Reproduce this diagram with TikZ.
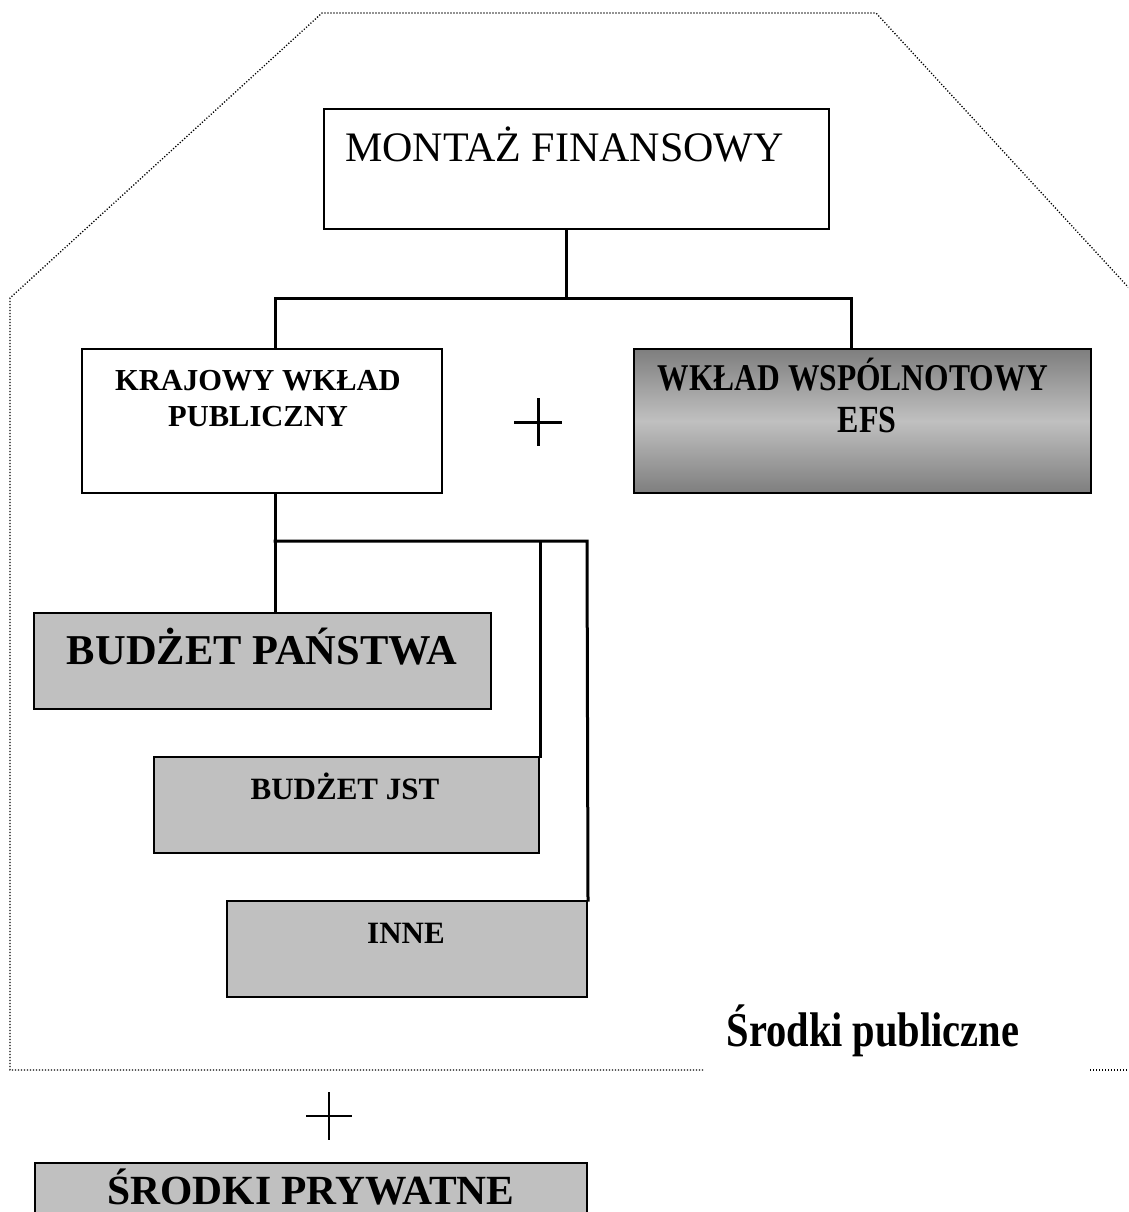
\documentclass[tikz,border=0pt]{standalone}
\usepackage{fontspec}
\usepackage{graphicx}
\setmainfont{Liberation Serif}
\usetikzlibrary{calc}
\definecolor{boxgray}{HTML}{C0C0C0}
\definecolor{darkgrad}{HTML}{7E7E7E}
\newcommand{\fs}[1]{\fontsize{#1}{#1}\selectfont}
\newcommand{\tallt}[1]{\scalebox{1}[1.2]{#1}}
\tikzset{
  box/.style={draw=black, line width=2pt, inner sep=0pt, rectangle},
  graybox/.style={box, fill=boxgray},
  gradbox/.style={box, line width=2.6pt, top color=darkgrad, bottom color=darkgrad, middle color=boxgray},
  conn/.style={draw=black, line width=3pt, line cap=rect},
  dotline/.style={draw=black, line width=1.3pt, dash pattern=on 1.2pt off 1.8pt},
  plusline/.style={draw=black, line width=3pt},
  txt/.style={anchor=base, inner sep=0pt, align=center}
}
\begin{document}
\begin{tikzpicture}[x=1pt,y=-1pt]
\useasboundingbox (0,0) rectangle (1128,1212);
\clip (0,0) rectangle (1128,1212);
\fill[white] (0,0) rectangle (1128,1212);

% dotted outline of public funds
\coordinate (o1) at (10,1070);
\coordinate (o2) at (10,298);
\coordinate (o3) at (322,13);
\coordinate (o4) at (876,13);
\coordinate (o5) at (1140,300);
\coordinate (o6) at (703,1070);
\coordinate (o7) at (1090,1070);
\coordinate (o8) at (1128,1070);
\draw[dotline] (o6) -- (o1) -- (o2) -- (o3) -- (o4) -- (o5);
\draw[dotline] (o7) -- (o8);

% boxes
\node[box, minimum width=505pt, minimum height=120pt] (mf) at (576.5,169) {};
\node[box, minimum width=360pt, minimum height=144pt] (kwp) at (262,421) {};
\node[gradbox, minimum width=457pt, minimum height=144pt] (wwe) at (862.5,421) {};
\node[graybox, minimum width=457pt, minimum height=96pt] (bp) at (262.5,661) {};
\node[graybox, minimum width=385pt, minimum height=96pt] (jst) at (346.5,805) {};
\node[graybox, minimum width=360pt, minimum height=96pt] (inne) at (407,949) {};
\node[graybox, minimum width=552pt, minimum height=96pt] (sp) at (311,1211) {};

% texts
\node[txt, font=\fs{42}] (mft) at (564.5,161) {MONTAŻ FINANSOWY};
\node[txt, font=\fs{30.5}\bfseries] (kwpt1) at (258,390) {KRAJOWY WKŁAD};
\node[txt, font=\fs{30.5}\bfseries] (kwpt2) at (258,426) {PUBLICZNY};
\node[txt, font=\fs{31.5}\bfseries] (wwet1) at (853,390) {\tallt{WKŁAD WSPÓLNOTOWY}};
\node[txt, font=\fs{32}\bfseries] (wwet2) at (867,432) {\tallt{EFS}};
\node[txt, font=\fs{42.5}\bfseries] (bpt) at (262,664) {BUDŻET PAŃSTWA};
\node[txt, font=\fs{31}\bfseries] (jstt) at (345,799) {BUDŻET JST};
\node[txt, font=\fs{31}\bfseries] (innet) at (406,943) {INNE};
\node[txt, font=\fs{40.5}\bfseries] (spub) at (873,1046) {\tallt{Środki publiczne}};
\node[txt, font=\fs{41.5}\bfseries] (spt) at (311,1204) {ŚRODKI PRYWATNE};

% connectors
\coordinate (tM) at (566,298);
\coordinate (tL) at (275,298);
\coordinate (tR) at (851,298);
\draw[conn] (mf.south -| tM) -- (tM);
\draw[conn] (kwp.north -| tL) -- (tL) -- (tR) -- (wwe.north -| tR);
\coordinate (bL) at (275,541);
\coordinate (bR) at (587,541);
\draw[conn] (kwp.south -| bL) -- (bL) -- (bp.north -| bL);
\draw[conn] (bL) -- (bR) -- (inne.north east);
\draw[conn] (jst.north east |- bL) -- (jst.north east);

% plus signs
\coordinate (p1) at (538,422);
\draw[plusline] ($(p1)+(-24,0)$) -- ($(p1)+(24,0)$);
\draw[plusline] ($(p1)+(0,-24)$) -- ($(p1)+(0,24)$);
\coordinate (p2) at (329,1116);
\draw[draw=black, line width=2.5pt] ($(p2)+(-23,0)$) -- ($(p2)+(23,0)$);
\draw[draw=black, line width=1.4pt] ($(p2)+(0,-24)$) -- ($(p2)+(0,24)$);
\end{tikzpicture}
\end{document}
